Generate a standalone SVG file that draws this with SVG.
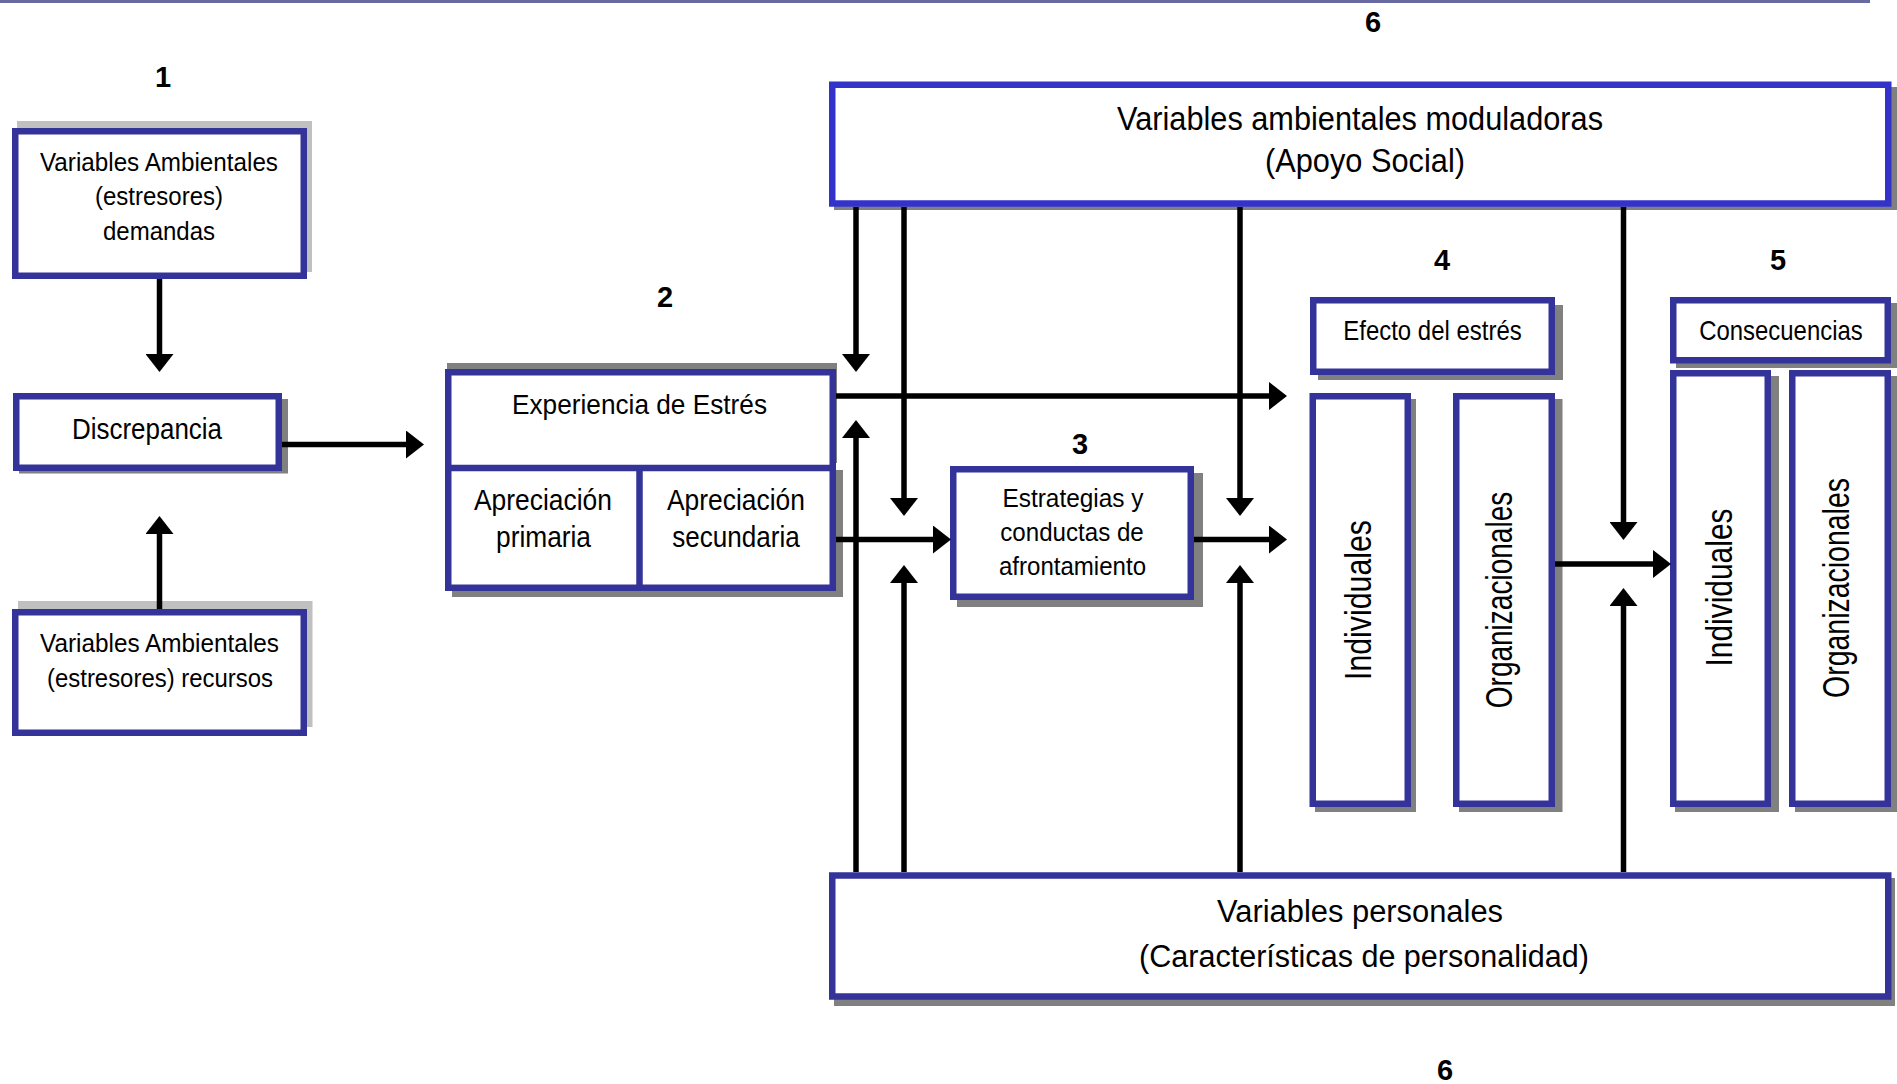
<svg xmlns="http://www.w3.org/2000/svg" width="1897" height="1084" viewBox="0 0 1897 1084">
  <style>
    .box { fill: #ffffff; stroke: #333399; stroke-width: 6.5; }
    .boxb { fill: #ffffff; stroke: #3333cc; stroke-width: 6.5; }
    .sh { fill: #808080; }
    .shl { fill: #c0c0c0; }
    .div { stroke: #333399; stroke-width: 6.5; fill: none; }
    .t { font-family: "Liberation Sans", Arial, sans-serif; fill: #000000; text-anchor: middle; }
    .num { font-family: "Liberation Sans", Arial, sans-serif; font-weight: bold; font-size: 29px; fill: #000000; text-anchor: middle; }
    .c { stroke: #000000; stroke-width: 5.5; fill: none; marker-end: url(#ah); }
  </style>
  <defs>
    <marker id="ah" viewBox="0 0 18 28" refX="2" refY="14" markerWidth="18" markerHeight="28" markerUnits="userSpaceOnUse" orient="auto">
      <path d="M0,0 L18,14 L0,28 Z" fill="#000000"/>
    </marker>
  </defs>

  <rect width="1897" height="1084" fill="#ffffff"/>

  <!-- header rule -->
  <rect x="0" y="0" width="1870" height="3" fill="#6a6aa2"/>

  <!-- section numbers -->
  <g id="numbers">
    <text class="num" x="163" y="87">1</text>
    <text class="num" x="665" y="307">2</text>
    <text class="num" x="1080" y="454">3</text>
    <text class="num" x="1442" y="270">4</text>
    <text class="num" x="1778" y="270">5</text>
    <text class="num" x="1373" y="32">6</text>
    <text class="num" x="1445" y="1080">6</text>
  </g>

  <!-- 1: environmental demands -->
  <g id="n-demandas">
    <rect class="shl" x="17" y="121" width="295" height="151"/>
    <rect class="box" x="15.25" y="131.25" width="288.5" height="144.5"/>
    <text class="t" font-size="26.5" x="159" y="171" textLength="238" lengthAdjust="spacingAndGlyphs">Variables Ambientales</text>
    <text class="t" font-size="26.5" x="159" y="205" textLength="128" lengthAdjust="spacingAndGlyphs">(estresores)</text>
    <text class="t" font-size="26.5" x="159" y="240" textLength="112" lengthAdjust="spacingAndGlyphs">demandas</text>
  </g>

  <!-- discrepancy -->
  <g id="n-discrepancia">
    <rect class="sh" x="19" y="399" width="269" height="74.5"/>
    <rect class="box" x="16.25" y="396.25" width="262.5" height="71.5"/>
    <text class="t" font-size="30" x="147" y="438.5" textLength="150" lengthAdjust="spacingAndGlyphs">Discrepancia</text>
  </g>

  <!-- 1: environmental resources -->
  <g id="n-recursos">
    <rect class="shl" x="18" y="601" width="294.5" height="126"/>
    <rect class="box" x="15.25" y="612.25" width="288.5" height="120.5"/>
    <text class="t" font-size="26.5" x="159.5" y="652" textLength="239" lengthAdjust="spacingAndGlyphs">Variables Ambientales</text>
    <text class="t" font-size="26.5" x="160" y="687" textLength="226" lengthAdjust="spacingAndGlyphs">(estresores) recursos</text>
  </g>

  <!-- 2: stress experience -->
  <g id="n-experiencia">
    <rect class="sh" x="447" y="363" width="390" height="100"/>
    <rect class="sh" x="452" y="470" width="391" height="127"/>
    <rect class="box" x="448.25" y="372.25" width="384.5" height="215.5"/>
    <line class="div" x1="448" y1="468" x2="833" y2="468"/>
    <line class="div" x1="639.5" y1="468" x2="639.5" y2="588"/>
    <text class="t" font-size="28" x="639.5" y="413.5" textLength="255" lengthAdjust="spacingAndGlyphs">Experiencia de Estrés</text>
    <text class="t" font-size="30" x="543" y="510" textLength="138" lengthAdjust="spacingAndGlyphs">Apreciación</text>
    <text class="t" font-size="30" x="543.5" y="547" textLength="95" lengthAdjust="spacingAndGlyphs">primaria</text>
    <text class="t" font-size="30" x="736" y="510" textLength="138" lengthAdjust="spacingAndGlyphs">Apreciación</text>
    <text class="t" font-size="30" x="736" y="547" textLength="127.5" lengthAdjust="spacingAndGlyphs">secundaria</text>
  </g>

  <!-- 3: coping -->
  <g id="n-estrategias">
    <rect class="sh" x="957" y="473" width="246" height="134"/>
    <rect class="box" x="953.25" y="469.25" width="237.5" height="127.5"/>
    <text class="t" font-size="26" x="1073" y="507" textLength="141" lengthAdjust="spacingAndGlyphs">Estrategias y</text>
    <text class="t" font-size="26" x="1072" y="540.5" textLength="143.5" lengthAdjust="spacingAndGlyphs">conductas de</text>
    <text class="t" font-size="26" x="1072.5" y="575" textLength="147" lengthAdjust="spacingAndGlyphs">afrontamiento</text>
  </g>

  <!-- 6: modulating environment -->
  <g id="n-apoyo">
    <rect class="sh" x="834" y="87" width="1063" height="123"/>
    <rect class="boxb" x="832.25" y="84.75" width="1056" height="118.75"/>
    <text class="t" font-size="34" x="1360" y="130" textLength="486" lengthAdjust="spacingAndGlyphs">Variables ambientales moduladoras</text>
    <text class="t" font-size="34" x="1365" y="171.5" textLength="200" lengthAdjust="spacingAndGlyphs">(Apoyo Social)</text>
  </g>

  <!-- 4: stress effect -->
  <g id="n-efecto">
    <rect class="sh" x="1318" y="305" width="245" height="75"/>
    <rect class="box" x="1313.25" y="300.25" width="238.5" height="71.5"/>
    <text class="t" font-size="28" x="1432.5" y="340" textLength="178.5" lengthAdjust="spacingAndGlyphs">Efecto del estrés</text>
  </g>
  <g id="n-efecto-individuales">
    <rect class="sh" x="1315" y="399" width="101" height="413"/>
    <rect class="box" x="1312.75" y="396.25" width="95" height="407.5"/>
    <text class="t" font-size="37" x="1371" y="600" textLength="160" lengthAdjust="spacingAndGlyphs" transform="rotate(-90 1371 600)">Individuales</text>
  </g>
  <g id="n-efecto-organizacionales">
    <rect class="sh" x="1459" y="399" width="103.5" height="413"/>
    <rect class="box" x="1456.25" y="396.25" width="95.5" height="407.5"/>
    <text class="t" font-size="37" x="1512" y="600" textLength="216.5" lengthAdjust="spacingAndGlyphs" transform="rotate(-90 1512 600)">Organizacionales</text>
  </g>

  <!-- 5: consequences -->
  <g id="n-consecuencias">
    <rect class="sh" x="1676" y="303" width="221" height="65"/>
    <rect class="box" x="1673.25" y="300.25" width="214.5" height="60"/>
    <text class="t" font-size="28" x="1781" y="340" textLength="163.5" lengthAdjust="spacingAndGlyphs">Consecuencias</text>
  </g>
  <g id="n-consecuencias-individuales">
    <rect class="sh" x="1675" y="376" width="104" height="436"/>
    <rect class="box" x="1673.25" y="373.25" width="94.5" height="430.5"/>
    <text class="t" font-size="37" x="1731.5" y="587.5" textLength="158" lengthAdjust="spacingAndGlyphs" transform="rotate(-90 1731.5 587.5)">Individuales</text>
  </g>
  <g id="n-consecuencias-organizacionales">
    <rect class="sh" x="1795" y="376" width="102" height="436"/>
    <rect class="box" x="1792.25" y="373.25" width="95.5" height="430.5"/>
    <text class="t" font-size="37" x="1848.5" y="588" textLength="220" lengthAdjust="spacingAndGlyphs" transform="rotate(-90 1848.5 588)">Organizacionales</text>
  </g>

  <!-- 6: personal variables -->
  <g id="n-personales">
    <rect class="sh" x="834" y="878" width="1061" height="128"/>
    <rect class="box" x="832.25" y="875.5" width="1056" height="121"/>
    <text class="t" font-size="31" x="1360" y="922" textLength="286" lengthAdjust="spacingAndGlyphs">Variables personales</text>
    <text class="t" font-size="31" x="1364" y="967" textLength="450" lengthAdjust="spacingAndGlyphs">(Características de personalidad)</text>
  </g>

  <!-- connectors, drawn over the node shadows -->
  <g id="connectors">
    <line class="c" x1="159.5" y1="279" x2="159.5" y2="356"/>
    <line class="c" x1="159.5" y1="609" x2="159.5" y2="532"/>
    <line class="c" x1="282" y1="444.5" x2="408" y2="444.5"/>
    <line class="c" x1="856" y1="207" x2="856" y2="356"/>
    <line class="c" x1="856" y1="872" x2="856" y2="436"/>
    <line class="c" x1="904" y1="207" x2="904" y2="500"/>
    <line class="c" x1="904" y1="872" x2="904" y2="581"/>
    <line class="c" x1="1240" y1="207" x2="1240" y2="500"/>
    <line class="c" x1="1240" y1="872" x2="1240" y2="581"/>
    <line class="c" x1="1623.5" y1="207" x2="1623.5" y2="524"/>
    <line class="c" x1="1623.5" y1="872" x2="1623.5" y2="604"/>
    <line class="c" x1="836" y1="396" x2="1271" y2="396"/>
    <line class="c" x1="836" y1="539.5" x2="935" y2="539.5"/>
    <line class="c" x1="1194" y1="539.5" x2="1271" y2="539.5"/>
    <line class="c" x1="1555" y1="564" x2="1655" y2="564"/>
  </g>
</svg>
